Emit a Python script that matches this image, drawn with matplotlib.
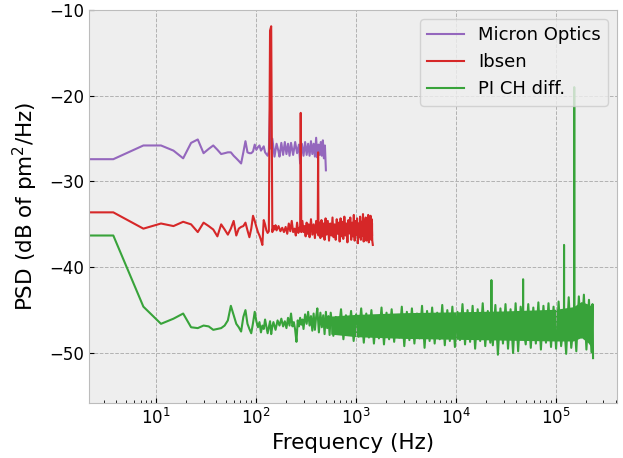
import numpy as np
import matplotlib
matplotlib.use('Agg')
import matplotlib.pyplot as plt

# frequency resolution of the PSD (Hz per bin)
DF = 3.74

# Micron Optics: bin index and PSD (dB)
mo_bin = [0, 1, 2, 3, 4, 5, 6, 7, 8, 9, 10, 11, 12, 13, 14, 15, 16, 17, 18, 19, 20,
          21, 22, 23, 24, 25, 26, 27, 28, 29, 30, 32, 33, 35, 36, 37, 38, 39, 41, 43,
          45, 46, 48, 50, 52, 54, 56, 58, 60, 63, 66, 69, 72, 74, 77, 80, 83, 86, 89,
          92, 95, 98, 101, 104, 107, 110, 113, 116, 119, 122, 125, 128, 131, 134]
mo_psd = [-27.4, -27.4, -25.8, -25.8, -26.4, -27.3, -25.5, -25.1, -26.7, -26.2, -25.8,
          -26.3, -26.8, -26.7, -26.6, -26.6, -27.0, -27.3, -27.6, -27.9, -26.6, -25.3,
          -26.6, -26.7, -26.7, -26.5, -25.7, -26.3, -26.0, -25.8, -26.4, -25.9, -26.6,
          -27.0, -26.5, -21.5, -26.2, -25.0, -27.1, -25.6, -26.5, -27.1, -25.5, -26.9,
          -25.4, -26.8, -25.6, -27.0, -25.5, -26.9, -25.4, -26.7, -25.7, -27.9, -25.6,
          -27.0, -25.4, -26.9, -25.6, -27.0, -25.3, -26.8, -25.6, -27.1, -24.9, -27.2,
          -25.7, -26.9, -25.4, -27.0, -25.2, -27.3, -25.8, -28.7]

# Ibsen
ib_bin = [0, 1, 2, 3, 4, 5, 6, 7, 8, 9, 10, 11, 12, 13, 14, 15, 16, 17, 18, 19, 20,
          21, 22, 23, 24, 25, 26, 27, 28, 29, 30, 31, 32, 33, 34, 35, 36, 37, 38, 39,
          40, 41, 42, 43, 45, 47, 49, 51, 53, 55, 57, 59, 61, 63, 65, 67, 69, 71, 73,
          74, 75, 76, 78, 80, 82, 84, 86, 88, 90, 92, 95, 98, 101, 104, 107, 110, 111,
          112, 113, 115, 118, 121, 124, 127, 130, 133, 136, 140, 144, 148, 152, 156,
          160, 164, 168, 172, 176, 180, 184, 188, 192, 196, 200, 205, 210, 215, 220,
          225, 230, 235, 240, 245, 250, 255, 260, 265, 270, 275, 280, 285, 290, 295,
          300, 305, 310, 315, 320, 325, 330, 335, 340, 345, 350, 355, 360, 365, 370,
          375, 380, 385, 390, 395]
ib_psd = [-33.6, -33.6, -35.5, -34.9, -35.2, -34.7, -35.0, -35.9, -34.8, -35.2, -35.6,
          -36.4, -35.0, -35.6, -36.2, -35.5, -34.6, -36.3, -35.5, -35.3, -35.2, -34.8,
          -35.7, -36.5, -35.5, -34.0, -34.6, -35.3, -35.9, -36.3, -36.8, -37.4, -34.5,
          -35.0, -35.7, -36.0, -35.8, -12.4, -11.9, -35.9, -35.2, -35.6, -35.1, -35.7,
          -35.2, -35.8, -35.4, -35.9, -35.3, -36.1, -34.9, -35.8, -34.6, -35.9, -35.5,
          -36.3, -34.8, -36.0, -35.4, -35.8, -22.0, -35.9, -34.6, -35.9, -35.2, -36.4,
          -34.8, -36.1, -35.0, -36.5, -34.4, -36.2, -35.0, -36.6, -34.6, -36.0, -35.5,
          -26.6, -36.3, -34.8, -36.6, -34.5, -36.4, -34.9, -36.8, -34.3, -36.2, -34.6,
          -36.9, -34.9, -36.3, -34.2, -36.5, -35.0, -36.8, -34.4, -36.1, -34.8, -37.0,
          -34.3, -36.4, -34.7, -36.7, -34.1, -36.3, -34.9, -37.1, -34.5, -36.0, -34.2,
          -36.8, -34.8, -36.4, -33.9, -36.9, -34.6, -36.2, -34.3, -37.2, -34.9, -36.5,
          -34.1, -36.8, -34.7, -36.3, -33.8, -37.0, -34.5, -36.1, -34.2, -36.9, -34.8,
          -36.4, -33.9, -37.1, -34.6, -36.5, -34.0, -36.8, -34.4, -36.9, -37.4]
# solid core of the dense Ibsen band
ib_core_freq = [560, 800, 1100, 1470]
ib_core_hi = [-35.1, -34.9, -34.8, -34.8]
ib_core_lo = [-35.9, -36.1, -36.2, -36.3]

# PI CH diff.: low-frequency bins, then the dense part in Hz
pi_bin = [0, 1, 2, 3, 4, 5, 6, 7, 8, 9, 10, 11, 12, 13, 14, 15, 16, 17, 18, 19, 20,
          21, 22, 23, 24, 25, 26, 27, 28, 29, 30, 31, 32, 33, 34, 35, 36, 37, 38, 39,
          40, 42, 44, 46, 48, 50, 52, 54, 56, 58, 60, 62, 64, 66, 68, 70, 72, 74, 76,
          78, 80, 83, 86, 89, 92, 95, 98, 101, 104, 107, 110, 114, 118, 122, 126, 130,
          134, 138, 142, 146]
pi_psd = [-36.3, -36.3, -44.6, -46.6, -46.0, -45.4, -47.0, -47.1, -46.8, -46.9, -47.3,
          -47.2, -47.1, -46.8, -46.2, -44.5, -45.6, -46.6, -47.0, -47.5, -45.8, -45.0,
          -46.6, -47.2, -47.7, -46.5, -45.2, -46.3, -47.0, -46.4, -47.6, -46.8, -47.2,
          -46.1, -46.9, -47.7, -47.0, -46.3, -47.8, -46.9, -46.4, -47.3, -46.2, -46.8,
          -46.0, -46.9, -46.3, -47.1, -45.9, -46.8, -45.4, -46.9, -46.4, -47.3, -48.7,
          -46.2, -46.9, -45.9, -46.7, -46.1, -47.2, -45.5, -46.6, -45.2, -46.8, -45.7,
          -47.4, -45.4, -47.3, -45.8, -44.8, -47.6, -45.3, -47.0, -45.6, -47.8, -45.2,
          -47.1, -45.7, -47.9]
pi_hf_freq = [560, 595, 630, 670, 710, 750, 795, 845, 895, 950, 1005, 1065, 1130, 1200,
              1270, 1350, 1430, 1515, 1605, 1700, 1805, 1910, 2025, 2150, 2280, 2415,
              2560, 2715, 2880, 3050, 3235, 3430, 3635, 3850, 4085, 4330, 4590, 4865,
              5155, 5465, 5795, 6140, 6510, 6900, 7315, 7755, 8220, 8710, 9235, 9790,
              10380, 11000, 11660, 12360, 13100, 13890, 14720, 15600, 16540, 17530,
              18580, 19700, 20880, 22130, 22650, 22700, 22750, 23460, 24870, 26360,
              27940, 29620, 31400, 33280, 35280, 37390, 39640, 42010, 44530, 47050,
              47100, 47150, 50040, 53040, 56230, 59600, 63180, 66970, 70990, 75250,
              79760, 84550, 89620, 95000, 100700, 106700, 113100, 120800, 121000,
              121200, 127100, 134700, 142800, 152700, 153000, 153300, 160500, 170100,
              180300, 191100, 202600, 214800, 227600, 233000, 236000]
pi_hf_psd = [-45.3, -48.0, -45.8, -47.6, -44.9, -48.4, -45.6, -47.9, -45.1, -48.6, -45.5,
             -48.1, -44.8, -48.8, -45.4, -48.2, -45.0, -48.9, -45.7, -48.3, -44.7, -49.0,
             -45.3, -48.4, -44.9, -48.7, -45.6, -48.2, -44.6, -49.2, -45.2, -48.5, -44.8,
             -48.9, -45.4, -48.3, -44.5, -49.4, -45.1, -48.6, -44.7, -48.9, -45.3, -48.4,
             -44.4, -49.1, -45.0, -48.6, -44.6, -49.3, -45.2, -48.5, -44.3, -49.0, -45.0,
             -48.7, -44.5, -49.5, -44.9, -48.6, -44.2, -49.2, -45.1, -48.8, -46.6, -41.5,
             -46.8, -49.1, -44.4, -50.2, -44.8, -48.9, -44.3, -49.5, -44.9, -50.0, -44.2,
             -49.8, -44.6, -46.7, -41.4, -46.9, -49.0, -44.3, -49.4, -44.7, -48.9, -44.1,
             -49.6, -44.5, -48.8, -44.2, -49.3, -44.6, -49.5, -44.0, -49.2, -46.4, -37.4,
             -46.6, -50.1, -43.5, -49.4, -46.2, -19.0, -46.0, -49.8, -43.4, -48.2, -43.2,
             -49.6, -43.8, -49.9, -44.3, -50.6]
# solid core of the dense PI CH band
pi_core_freq = [560, 1000, 3000, 10000, 30000, 100000, 150000, 180000, 210000, 236000]
pi_core_hi = [-45.7, -45.5, -45.3, -45.2, -45.1, -44.9, -44.6, -44.0, -44.3, -44.6]
pi_core_lo = [-47.8, -48.1, -48.3, -48.4, -48.5, -48.6, -48.6, -48.2, -48.8, -49.6]

plt.rcParams['axes.facecolor'] = '#eeeeee'
plt.rcParams['axes.edgecolor'] = '#bcbcbc'
plt.rcParams['xtick.direction'] = 'in'
plt.rcParams['ytick.direction'] = 'in'

purple = '#9467bd'
red = '#d62728'
green = '#38a33a'

mo_freq = DF * np.array(mo_bin)
ib_freq = DF * np.array(ib_bin)
pi_freq = np.concatenate([DF * np.array(pi_bin), pi_hf_freq])
pi_all = np.concatenate([pi_psd, pi_hf_psd])

fig = plt.figure(figsize=(6.23, 4.58), dpi=100)
ax = fig.add_axes([0.1433, 0.1207, 0.8471, 0.8575])
ax.set_xscale('log')

ax.plot(mo_freq, mo_psd, color=purple, lw=1.5, label='Micron Optics')
ax.fill_between(ib_core_freq, ib_core_lo, ib_core_hi, color=red, lw=0)
ax.plot(ib_freq, ib_psd, color=red, lw=1.5, label='Ibsen')
ax.fill_between(pi_core_freq, pi_core_lo, pi_core_hi, color=green, lw=0)
ax.plot(pi_freq, pi_all, color=green, lw=1.5, label='PI CH diff.')

ax.set_xlim(2.15, 4.1e5)
ax.set_ylim(-55.8, -10)
ax.set_yticks([-50, -40, -30, -20, -10])
ax.grid(True, which='major', color='#b2b2b2', linestyle='--', linewidth=0.7)
ax.tick_params(labelsize=12)
ax.set_xlabel('Frequency (Hz)', fontsize=15.5)
ax.set_ylabel('PSD (dB of pm$^2$/Hz)', fontsize=15.5, labelpad=7)
ax.legend(loc='upper right', fontsize=13, fancybox=True)

fig.savefig('out.png', dpi=100)
